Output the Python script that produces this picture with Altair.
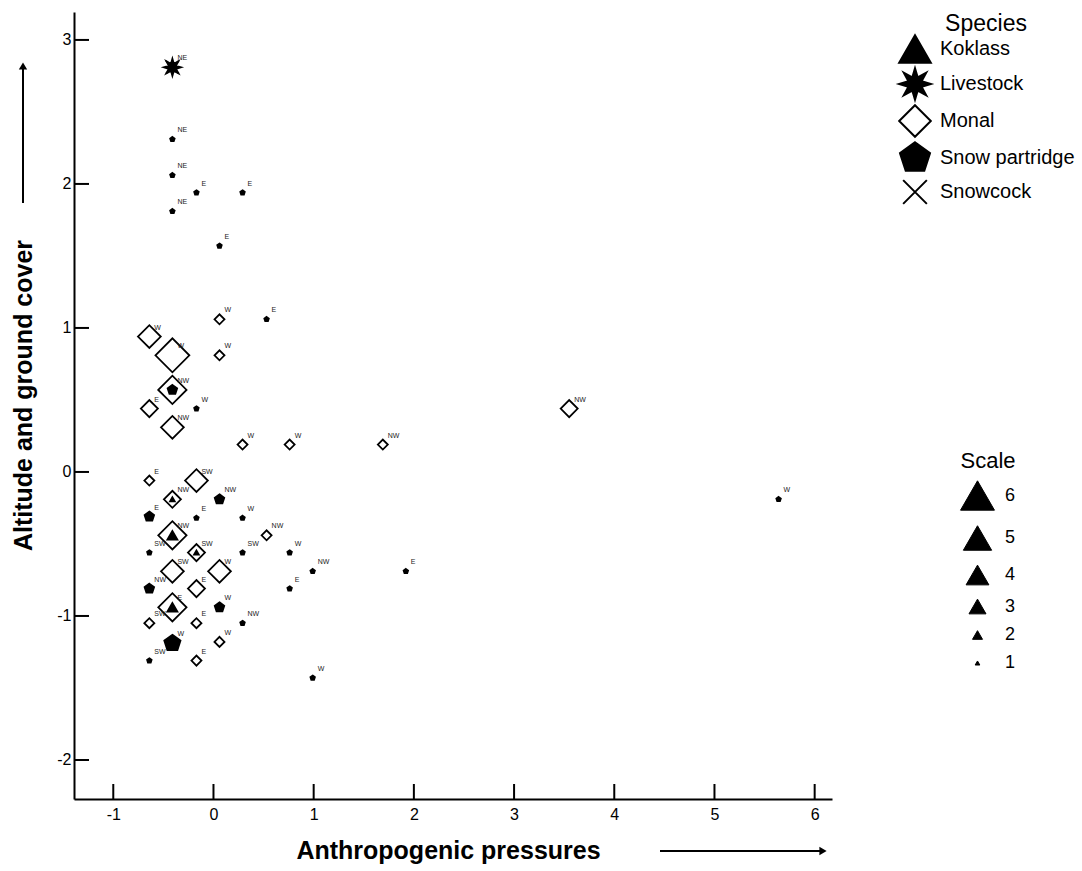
import math
import altair as alt
import pandas as pd

# ---------------- data ----------------
species_order = ["Koklass", "Livestock", "Monal", "Snow partridge", "Snowcock"]

# Monal (hollow diamonds)
monal_x = [0.06, -0.64, -0.41, 0.06, -0.41, -0.64, -0.41, 0.29, 0.76, 1.69, 3.55,
           -0.64, -0.17, -0.41, -0.41, 0.53, -0.17, -0.41, 0.06, -0.17, -0.41,
           -0.64, -0.17, 0.06, -0.17]
monal_y = [1.06, 0.94, 0.81, 0.81, 0.57, 0.44, 0.31, 0.19, 0.19, 0.19, 0.44,
           -0.06, -0.06, -0.19, -0.44, -0.44, -0.56, -0.69, -0.69, -0.81, -0.94,
           -1.05, -1.05, -1.18, -1.31]
monal_scale = [2, 4, 6, 2, 5, 3, 4, 2, 2, 2, 3,
               2, 4, 3, 5, 2, 3, 4, 4, 3, 5,
               2, 2, 2, 2]
monal_aspect = ["W", "W", "W", "W", "NW", "E", "NW", "W", "W", "NW", "NW",
                "E", "SW", "NW", "NW", "NW", "SW", "SW", "W", "E", "E",
                "SW", "E", "W", "E"]

# Snow partridge (filled pentagons)
partridge_x = [-0.41, -0.64, 0.06, -0.64, 0.06, -0.41,
               -0.41, -0.41, -0.17, 0.29, -0.41, 0.06, 0.53,
               -0.17, -0.17, 0.29, -0.64, 0.29, 0.76, 0.99, 0.76, 1.92,
               0.29, -0.64, 0.99, 5.64]
partridge_y = [0.57, -0.31, -0.19, -0.81, -0.94, -1.19,
               2.31, 2.06, 1.94, 1.94, 1.81, 1.57, 1.06,
               0.44, -0.32, -0.32, -0.56, -0.56, -0.56, -0.69, -0.81, -0.69,
               -1.05, -1.31, -1.43, -0.19]
partridge_scale = [2, 2, 2, 2, 2, 3,
                   1, 1, 1, 1, 1, 1, 1,
                   1, 1, 1, 1, 1, 1, 1, 1, 1,
                   1, 1, 1, 1]
partridge_aspect = ["", "E", "NW", "NW", "W", "W",
                    "NE", "NE", "E", "E", "NE", "E", "E",
                    "W", "E", "W", "SW", "SW", "W", "NW", "E", "E",
                    "NW", "SW", "W", "W"]

# Koklass (filled triangles)
koklass_x = [-0.41, -0.41, -0.41, -0.17]
koklass_y = [-0.44, -0.94, -0.19, -0.56]
koklass_scale = [2, 2, 1, 1]
koklass_aspect = ["", "", "", ""]

# Livestock (filled star)
livestock_x = [-0.41]
livestock_y = [2.81]
livestock_scale = [3]
livestock_aspect = ["NE"]

# Snowcock (cross)
snowcock_x = [-0.41]
snowcock_y = [2.81]
snowcock_scale = [3]
snowcock_aspect = [""]

x_ticks = [-1, 0, 1, 2, 3, 4, 5, 6]
y_ticks = [-2, -1, 0, 1, 2, 3]
scale_levels = [6, 5, 4, 3, 2, 1]

# ---------------- table ----------------
rows = []
for name, xs, ys, ss, aa in [
    ("Monal", monal_x, monal_y, monal_scale, monal_aspect),
    ("Snow partridge", partridge_x, partridge_y, partridge_scale, partridge_aspect),
    ("Koklass", koklass_x, koklass_y, koklass_scale, koklass_aspect),
    ("Snowcock", snowcock_x, snowcock_y, snowcock_scale, snowcock_aspect),
    ("Livestock", livestock_x, livestock_y, livestock_scale, livestock_aspect),
]:
    for xv, yv, sv, av in zip(xs, ys, ss, aa):
        rows.append({"x": xv, "y": yv, "Species": name, "Scale": sv, "aspect": av})
df = pd.DataFrame(rows)


# ---------------- symbol shapes ----------------
def star_path(n=8, r_in=0.45):
    pts = []
    for k in range(2 * n):
        r = 1.0 if k % 2 == 0 else r_in
        a = math.pi * k / n - math.pi / 2
        pts.append(f"{r * math.cos(a):.3f},{r * math.sin(a):.3f}")
    return "M" + "L".join(pts) + "Z"


def pentagon_path():
    pts = []
    for k in range(5):
        a = -math.pi / 2 + 2 * math.pi * k / 5
        pts.append(f"{math.cos(a):.3f},{math.sin(a):.3f}")
    return "M" + "L".join(pts) + "Z"


cross_path = "M-0.75,-0.75L0.75,0.75M-0.75,0.75L0.75,-0.75"
shape_range = ["triangle-up", star_path(), "diamond", pentagon_path(), cross_path]
fill_range = ["black", "black", "transparent", "black", "black"]
stroke_range = ["black"] * 5
size_range = [1150, 800, 520, 290, 100, 22]

W, H = 758, 787
x_scale = alt.Scale(domain=[-1.392, 6.173], nice=False, zero=False)
y_scale = alt.Scale(domain=[-2.271, 3.194], nice=False, zero=False)

species_legend = alt.Legend(
    title="Species", orient="none", legendX=824, legendY=1,
    symbolSize=1000, symbolStrokeWidth=2,
    labelFontSize=20, labelFont="Liberation Sans", labelColor="black",
    titleFontSize=23, titleFont="Liberation Sans", titleFontWeight="normal",
    titleColor="black", titleAnchor="middle", titlePadding=-4,
    labelOffset=8, rowPadding=-5,
)
scale_legend = alt.Legend(
    title="Scale", orient="none", legendX=886, legendY=439,
    symbolType="triangle-up", symbolFillColor="black", symbolStrokeColor="black",
    symbolStrokeWidth=1,
    labelFontSize=18, labelFont="Liberation Sans", labelColor="black",
    titleFontSize=22, titleFont="Liberation Sans", titleFontWeight="normal",
    titleColor="black", titleAnchor="middle", labelOffset=10, rowPadding=10,
)

label_expr = "'' + datum.value"

points = alt.Chart(df).mark_point(opacity=1, strokeWidth=1.8).encode(
    x=alt.X("x:Q", scale=x_scale,
            axis=alt.Axis(title="Anthropogenic pressures", values=x_ticks, ticks=False,
                          grid=False, domainColor="black", domainWidth=2,
                          labelExpr=label_expr,
                          labelFontSize=16, labelFont="Liberation Sans", labelColor="black",
                          labelPadding=7, titleFontSize=25, titleFont="Liberation Sans",
                          titleFontWeight="bold", titleColor="black",
                          titleX=374, titleY=39)),
    y=alt.Y("y:Q", scale=y_scale,
            axis=alt.Axis(title="Altitude and ground cover", values=y_ticks, ticks=False,
                          grid=False, domainColor="black", domainWidth=2,
                          labelExpr=label_expr,
                          labelFontSize=16, labelFont="Liberation Sans", labelColor="black",
                          labelPadding=3, titleFontSize=25, titleFont="Liberation Sans",
                          titleFontWeight="bold", titleColor="black",
                          titleX=-38, titleY=383)),
    shape=alt.Shape("Species:N", scale=alt.Scale(domain=species_order, range=shape_range),
                    legend=species_legend),
    fill=alt.Fill("Species:N", scale=alt.Scale(domain=species_order, range=fill_range),
                  legend=species_legend),
    stroke=alt.Stroke("Species:N", scale=alt.Scale(domain=species_order, range=stroke_range),
                      legend=species_legend),
    size=alt.Size("Scale:O", scale=alt.Scale(type="ordinal", domain=scale_levels, range=size_range),
                  legend=scale_legend),
)

labels = alt.Chart(df).transform_filter("datum.aspect != ''").mark_text(
    align="left", baseline="middle", dx=5, dy=-9, fontSize=7,
    font="Liberation Sans", color="#222222",
).encode(
    x=alt.X("x:Q", scale=x_scale),
    y=alt.Y("y:Q", scale=y_scale),
    text="aspect:N",
)

xt = alt.Chart(pd.DataFrame({"t": x_ticks})).mark_rule(color="black", strokeWidth=2).encode(
    x=alt.X("t:Q", scale=x_scale), y=alt.value(H), y2=alt.value(H - 15)
)
yt = alt.Chart(pd.DataFrame({"t": y_ticks})).mark_rule(color="black", strokeWidth=2).encode(
    y=alt.Y("t:Q", scale=y_scale), x=alt.value(0), x2=alt.value(15)
)

one = alt.Data(values=[{"a": 0}])
y_arrow = alt.Chart(one).mark_rule(color="black", strokeWidth=2).encode(
    x=alt.value(-51), y=alt.value(56), y2=alt.value(191)
)
y_head = alt.Chart(one).mark_point(shape="triangle-up", filled=True, color="black",
                                   opacity=1, size=70).encode(
    x=alt.value(-51), y=alt.value(54)
)
x_arrow = alt.Chart(one).mark_rule(color="black", strokeWidth=2).encode(
    x=alt.value(586), x2=alt.value(747), y=alt.value(839)
)
x_head = alt.Chart(one).mark_point(shape="triangle-right", filled=True, color="black",
                                   opacity=1, size=70).encode(
    x=alt.value(749), y=alt.value(839)
)

chart = alt.layer(points, labels, xt, yt, y_arrow, y_head, x_arrow, x_head).properties(
    width=W, height=H,
    autosize=alt.AutoSizeParams(type="none"),
    padding={"left": 74, "top": 12, "right": 250, "bottom": 72},
    background="white",
).configure_view(stroke=None)

chart.save("out.html", embed_options={"renderer": "svg", "actions": False})
